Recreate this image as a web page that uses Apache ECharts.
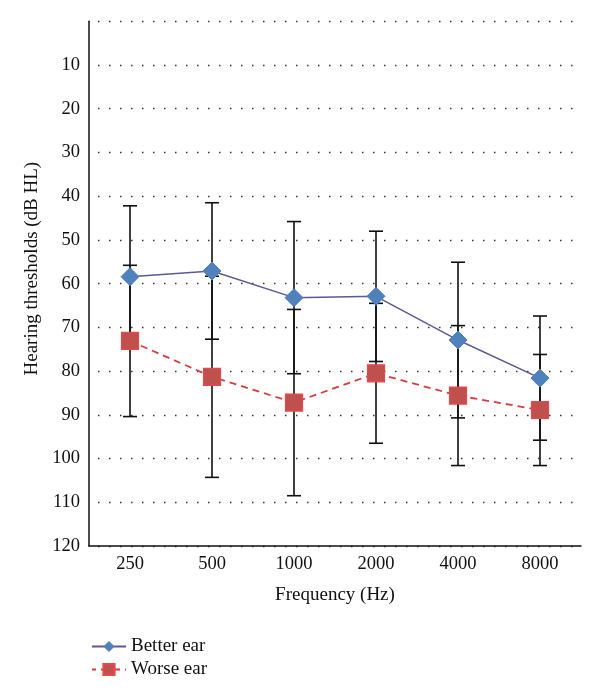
<!DOCTYPE html>
<html>
<head>
<meta charset="utf-8">
<script src="https://cdn.jsdelivr.net/npm/echarts@6/dist/echarts.min.js"></script>
<style>html,body{margin:0;padding:0;background:#fff}#c{width:600px;height:699px}</style>
</head>
<body>
<div id="c"></div>
<script>
const categories = ['250', '500', '1000', '2000', '4000', '8000'];
const betterMean = [58.4, 57.1, 63.2, 62.9, 72.9, 81.6];
const betterSD = [16.2, 15.6, 17.4, 14.9, 17.8, 14.2];
const worseMean = [73.1, 81.3, 87.2, 80.5, 85.6, 88.9];
const worseSD = [17.3, 23.0, 21.3, 16.0, 16.0, 12.7];
const yTicks = [0, 10, 20, 30, 40, 50, 60, 70, 80, 90, 100, 110, 120];

const FONT = '"Liberation Serif", "DejaVu Serif", serif';

function errData(mean, sd) {
  return mean.map((m, i) => [i, m - sd[i], m + sd[i]]);
}
function renderErr(params, api) {
  const x = api.value(0);
  const lo = api.coord([x, api.value(1)]);
  const hi = api.coord([x, api.value(2)]);
  const w = 7;
  const style = { stroke: '#111', lineWidth: 1.6 };
  return {
    type: 'group',
    children: [
      { type: 'line', shape: { x1: lo[0], y1: lo[1], x2: hi[0], y2: hi[1] }, style },
      { type: 'line', shape: { x1: lo[0] - w, y1: lo[1], x2: lo[0] + w, y2: lo[1] }, style },
      { type: 'line', shape: { x1: hi[0] - w, y1: hi[1], x2: hi[0] + w, y2: hi[1] }, style }
    ]
  };
}

const chart = echarts.init(document.getElementById('c'));
chart.setOption({
  animation: false,
  backgroundColor: '#fff',
  textStyle: { fontFamily: FONT },
  grid: { left: 89, right: 19, top: 21.3, bottom: 153 },
  legend: {
    orient: 'vertical',
    left: 86,
    top: 632,
    itemGap: 4,
    itemWidth: 34,
    itemHeight: 14,
    textStyle: { fontFamily: FONT, fontSize: 19, color: '#111' },
    data: ['Better ear', 'Worse ear']
  },
  xAxis: {
    type: 'category',
    data: categories,
    boundaryGap: true,
    position: 'bottom',
    name: 'Frequency (Hz)',
    nameLocation: 'middle',
    nameGap: 40,
    nameTextStyle: { fontFamily: FONT, fontSize: 19, color: '#111' },
    axisLine: { onZero: false, lineStyle: { color: '#111', width: 1.5 } },
    axisTick: { show: false },
    axisLabel: { fontFamily: FONT, fontSize: 18.5, color: '#111', margin: 9 }
  },
  yAxis: {
    type: 'value',
    inverse: true,
    min: 0,
    max: 120,
    interval: 10,
    name: 'Hearing thresholds (dB HL)',
    nameLocation: 'middle',
    nameGap: 45,
    nameTextStyle: { fontFamily: FONT, fontSize: 19, color: '#111', padding: [0, 0, 0, 30] },
    axisLine: { show: true, lineStyle: { color: '#111', width: 1.5 } },
    axisTick: { show: false },
    axisLabel: {
      fontFamily: FONT, fontSize: 18.5, color: '#111', margin: 9,
      formatter: v => (yTicks.indexOf(v) > 0 ? String(v) : '')
    },
    splitLine: { show: true, lineStyle: { color: '#333', width: 1.3, type: [1.5, 9.5], dashOffset: -9 } }
  },
  series: [
    {
      name: 'betterErr', type: 'custom', renderItem: renderErr,
      data: errData(betterMean, betterSD), z: 1, silent: true
    },
    {
      name: 'worseErr', type: 'custom', renderItem: renderErr,
      data: errData(worseMean, worseSD), z: 1, silent: true
    },
    {
      name: 'Better ear', type: 'line', data: betterMean, z: 3,
      symbol: 'diamond', symbolSize: 18,
      itemStyle: { color: '#4F81BD', borderColor: '#4F81BD' },
      lineStyle: { color: '#5a5a96', width: 1.5 }
    },
    {
      name: 'Worse ear', type: 'line', data: worseMean, z: 3,
      symbol: 'rect', symbolSize: 17,
      itemStyle: { color: '#C0504D', borderColor: '#E8474B', borderWidth: 1.2 },
      lineStyle: { color: '#D93A3D', width: 1.8, type: [7, 5] }
    }
  ]
});
</script>
</body>
</html>
